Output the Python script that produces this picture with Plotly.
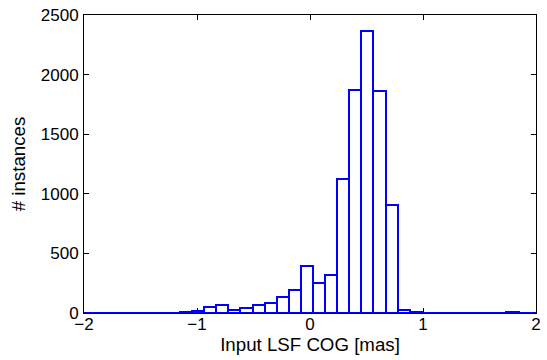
import numpy as np
import plotly.graph_objects as go

# histogram bins (centers in mas) and counts
bin_width = 0.107
bin_centers = [round(-0.027 + 0.107 * k, 4) for k in range(-18, 20)]
counts = [1, 1, 1, 1, 1, 1, 1, 3, 10, 20, 49, 63, 29, 38, 71, 86, 138, 195,
          395, 255, 316, 1127, 1875, 2362, 1860, 906, 22, 5,
          2, 1, 1, 1, 1, 1, 1, 6, 1, 1]

x_ticks = [-2, -1, 0, 1, 2]
x_ticklabels = ["\u22122", "\u22121", "0", "1", "2"]
y_ticks = [0, 500, 1000, 1500, 2000, 2500]

fig = go.Figure()
fig.add_trace(go.Bar(
    x=bin_centers, y=counts, width=bin_width,
    marker=dict(color="white", line=dict(color="#0000FF", width=2)),
    showlegend=False,
))

tick_font = dict(family="Liberation Sans, Arial, sans-serif", size=17, color="black")
title_font = dict(family="Liberation Sans, Arial, sans-serif", size=18.7, color="black")
axis_common = dict(
    showgrid=False, zeroline=False, showline=True, linecolor="black", linewidth=1,
    mirror="ticks", ticks="inside", ticklen=5, tickcolor="black", tickwidth=1,
    tickfont=tick_font, layer="below traces",
)
fig.update_layout(
    width=547, height=360,
    margin=dict(l=84, r=6, t=15, b=47),
    paper_bgcolor="white", plot_bgcolor="white",
    bargap=0,
    font=tick_font,
    xaxis=dict(range=[-2, 2], tickvals=x_ticks, ticktext=x_ticklabels,
               ticklabelstandoff=-4,
               title=dict(text="Input LSF COG [mas]", font=title_font, standoff=0), **axis_common),
    yaxis=dict(range=[0, 2500], tickvals=y_ticks, ticklabelstandoff=1,
               title=dict(text="# instances", font=title_font, standoff=10), **axis_common),
)
fig.write_html("out.html")
